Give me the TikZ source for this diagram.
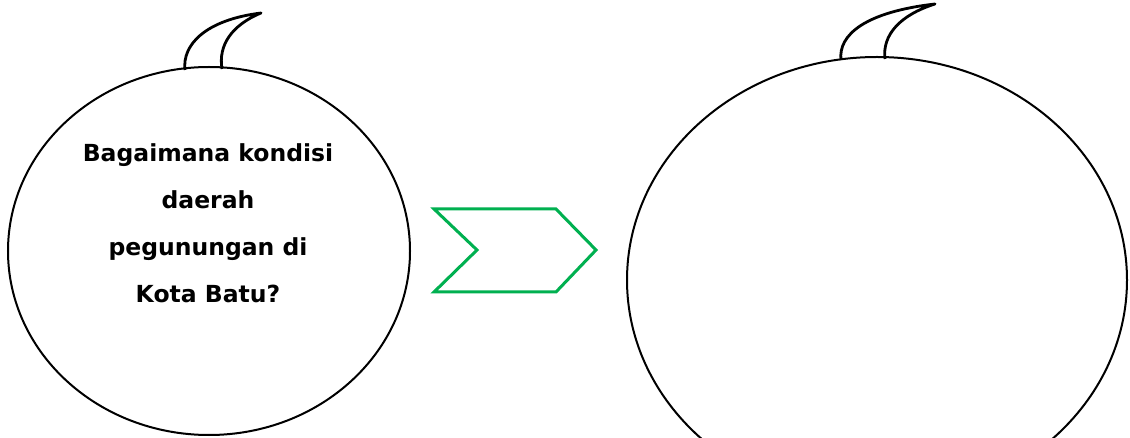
\documentclass[tikz,border=0pt]{standalone}
\usepackage{fontspec}
\setmainfont{DejaVu Sans}
\usetikzlibrary{shapes.geometric}
\definecolor{chevgreen}{RGB}{0,176,80}
\tikzset{
  bubble/.style={ellipse, draw=black, line width=2pt, inner sep=0pt},
  tail/.style={draw=black, line width=2.8pt, fill=white, line join=round},
  chev/.style={draw=chevgreen, line width=3pt, line join=miter},
  qtext/.style={align=center, font=\bfseries\fontsize{23.5}{47}\selectfont}
}
\begin{document}
\begin{tikzpicture}[x=1pt, y=-1pt]
\fill[white] (0,0) rectangle (1130,438);
\useasboundingbox (0,0) rectangle (1130,438);
\clip (0,0) rectangle (1130,438);
% tails
\draw[tail] (185,70) .. controls (182,45) and (205,20) .. (261,13)
  .. controls (232,25) and (218,45) .. (222,69);
\draw[tail] (841,60) .. controls (838,35) and (865,12) .. (935,4)
  .. controls (900,15) and (882,35) .. (885,59);
% bubbles
\node[bubble, minimum width=402pt, minimum height=368pt] (b1) at (209,251) {};
\node[bubble, minimum width=500pt, minimum height=446pt] (b2) at (877,280) {};
% chevron
\draw[chev] (434,209) -- (556,209) -- (596,250) -- (556,292) -- (434,292) -- (477,250) -- cycle;
% text
\node[qtext] (q) at (208,223) {Bagaimana kondisi\\daerah\\pegunungan di\\Kota Batu?};
\end{tikzpicture}
\end{document}
